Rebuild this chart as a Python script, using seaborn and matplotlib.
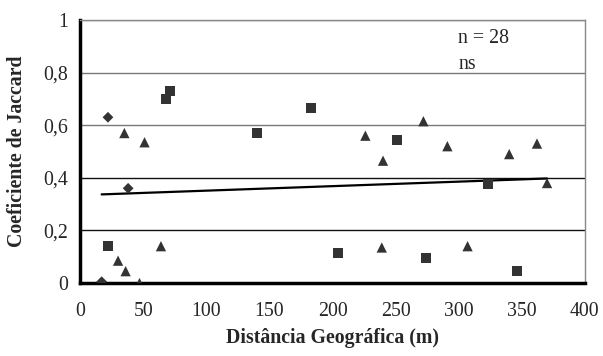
import numpy as np
import pandas as pd
import seaborn as sns
import matplotlib.pyplot as plt

# distance (m) and Jaccard coefficient, by marker group
dist_diamond = [17, 22, 38]
jac_diamond = [0.005, 0.63, 0.36]

dist_square = [22, 68, 71, 140, 183, 204, 251, 274, 323, 346]
jac_square = [0.14, 0.70, 0.73, 0.57, 0.665, 0.115, 0.545, 0.095, 0.375, 0.045]

dist_triangle = [30, 35, 36, 47, 51, 64, 226, 239, 240, 272, 291, 307, 340, 362, 370]
jac_triangle = [0.085, 0.57, 0.045, 0.0, 0.535, 0.14, 0.56, 0.135, 0.465, 0.615,
                0.52, 0.14, 0.49, 0.53, 0.38]

df = pd.DataFrame({
    'dist': dist_diamond + dist_square + dist_triangle,
    'jac': jac_diamond + jac_square + jac_triangle,
    'grupo': ['d'] * len(dist_diamond) + ['s'] * len(dist_square) + ['t'] * len(dist_triangle),
})

sns.set_style('white')
plt.rcParams['font.family'] = ['Liberation Serif', 'DejaVu Serif']

fig, ax = plt.subplots(figsize=(6.03, 3.56), dpi=100)
fig.subplots_adjust(left=0.133, right=0.970, top=0.944, bottom=0.205)

for y in [0.2, 0.4, 0.6, 0.8, 1.0]:
    ax.axhline(y, color='#111111' if y < 0.5 else '#7a7a7a', lw=1.0, zorder=0)

# marker sizes differ per group, so one call per group
for g, mk, sz in [('d', 'D', 30), ('s', 's', 50), ('t', '^', 55)]:
    sns.scatterplot(data=df[df.grupo == g], x='dist', y='jac', marker=mk, s=sz,
                    color='#333333', edgecolor='none', ax=ax, zorder=3)

sns.regplot(data=df, x='dist', y='jac', scatter=False, ci=None, truncate=True,
            line_kws={'color': 'black', 'lw': 1.6}, ax=ax)

ax.set_xlim(0, 400)
ax.set_ylim(0, 1)
ax.set_xticks(range(0, 401, 50))
ax.set_yticks([0, 0.2, 0.4, 0.6, 0.8, 1])
ax.set_yticklabels(['0', '0,2', '0,4', '0,6', '0,8', '1'])

for side in ['left', 'bottom']:
    ax.spines[side].set_linewidth(2.5)
    ax.spines[side].set_color('black')
for side in ['right', 'top']:
    ax.spines[side].set_linewidth(1.0)
    ax.spines[side].set_color('#888888')

ax.tick_params(axis='both', direction='in', length=5, width=2.5, labelsize=14.3)
ax.tick_params(axis='y', pad=9)
ax.tick_params(axis='x', pad=14)

ax.set_xlabel('Distância Geográfica (m)', fontsize=14.3, fontweight='bold', labelpad=5)
ax.set_ylabel('Coeficiente de Jaccard', fontsize=14.3, fontweight='bold')
ax.yaxis.set_label_coords(-0.105, 0.5)

ax.text(0.749, 0.93, 'n = 28', transform=ax.transAxes, fontsize=14.3, va='center')
ax.text(0.749, 0.83, 'ns', transform=ax.transAxes, fontsize=14.3, va='center')

fig.savefig('out.png', dpi=100)
